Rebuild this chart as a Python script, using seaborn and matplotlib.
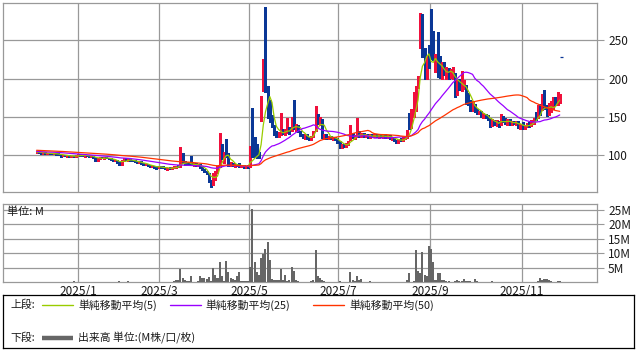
import numpy as np
import pandas as pd
import matplotlib
matplotlib.use("Agg")
import matplotlib.pyplot as plt
import seaborn as sns

sns.set_style("white")
plt.rcParams['font.family'] = ['Noto Sans CJK JP', 'DejaVu Sans']

# ---------------- data (daily candles, Dec 2024 - Nov 2025) ----------------
opens = [
    103,103.5,103,102,103,102,102.5,102,101.5,102,101,100.5,99,100,99,99.5,97.5,98.5,98,
    99.5,100.5,99.5,99,99.5,99,98,98.5,97,93,95.5,96.5,96,96.5,96,95,93.5,92.5,93.5,
    90,88,92.5,95,93.5,94,92.5,92,91,90,91,89,87.5,88,86,85,85.5,84,
    83,85.5,84,83,82,83,82,83.5,84.5,85.5,85,100.5,91,89,88,88.5,87,88,86.5,87.5,
    84,81,78.5,76,66,61,70,77,85,112,90,118,102,87.5,89,86,87,86.5,85,86.5,84,85.5,
    85,106,104,99,98,146,186,230,185,165,150,137,128,127,129,133,128,132,134,133,147,
    136,138,131,126,123,126,122,120.5,124,133,152,142,146,124,126,122,124,122,123,121,117,
    111,113,111.5,115,121,128,123,124,130,124,128,124,126,123,126,124,126,124,125,124,126,123,
    125,122,123,119,117,120,119,122,124,142,136,152,162,190,246,262,232,205,228,
    240,248,210,228,226,203,220,206,212,203,201,205,180,194,186,190,190,180,168,160,
    166,158,155,156,151,153,150,148,139,145,141,144,140,150,146,140,145,140,144,141,143,136,
    140,136,137,141,139,142,154,149,164,160,177,164,153,158,163,172,168,170,
]
highs = [
    104.5,104,103.5,103.5,103.5,103,103,102.5,102.5,102.5,103,101.5,100.5,100.5,100,100,99,99,100,
    101,101,100.5,100,100.5,99.5,99.5,99,97.5,96,97,97.5,97,97,96.5,95.5,94.5,94,94,
    91.5,93,96,95.5,94.5,94.5,93.5,93,92,91.5,91.5,89.5,88.5,88.5,87,86,86,85.5,
    86,86,85,84,83.5,84,84,85,86,86.5,111,102,92,90.5,89,98.7,89,89,88,88,
    85,82,79,77,67,76,79,86,129,114,104,121,103,91,90,88,88,90,87,87,86,86.5,
    112,161.5,124,115,104,177,226,293,190,172,152,139,131,130,155,134,134,148,136,150,172,
    140,139,132,128,127,127,124,125,131,164.5,154,150,147,127,127,125,125,124,124,122,118,
    114,115,116,118,139,129,126,148,131,129,129,127,127,127,127,127,127,126,127,127,127,126,
    126,124,124,120,121,122,123,124,133,155,160,182,190,203,286,285,240,230,244,
    291,262,232,261,230,222,222,215,214,212,215,207,198,200,210,198,192,181,172,170,
    167,160,158,157,155,154,152,149,147,146,146,145,153,151,148,147,147,145,145,144,144,141,
    143,139,142,143,146,149,156,166,167,180,185,166,168,170,176,176,183,180,
]
lows = [
    102.5,102.5,101.5,101.5,101.5,101.5,101.5,101,101,100.5,100,98,98.5,98.5,98,97,97,97.5,97.5,
    99,99,98.5,98,98.5,97.5,97,96.5,92,92.5,95,95.5,95,95.5,94.5,93,92,91.5,89.5,
    87,87.5,92,93,92.5,92,91.5,90.5,89.5,89.5,88.5,87,86.5,85.5,84.5,84,83.5,82,
    82.5,83.5,82.5,81.5,81,81.5,81.5,82.5,83.5,84.5,84.5,90,87.5,87,86.5,86.5,85.5,86,85,83,
    80,77.5,74.5,65,58.5,60.5,67,76,84,95,89,97,86,86,85,84.5,85,84,84,83,83.5,83.5,
    84.5,97,97,96,95.5,145,184,183,148,143,136,126,124,124,126,127,126,129,128,132,134,
    132,130,125,122,121,121,119.5,120,123,132,140,139,122,121,121,120.5,121,120,120,116,109,
    108.5,110,111,113,120,122,121,123,123,123,123,123,122,122,123,123,123,122,123,122,122,122,
    121,120,118,115.5,116,118,118,121,122,134,135,150,158,188,240,228,200,200,214,
    225,224,208,202,201,200,204,200,200,201,199,176,178,185,184,186,167,166,158,158,
    156,153,153,150,149,149,146,136,138,139,138,137,139,143,140,139,139,139,140,139,135,134,
    134,134.5,136,137,138,140,146,148,152,159,160,151,152,156,160,165,166,168,
]
closes = [
    103.5,103,102,103,102,102.5,102,101.5,102,101,100.5,99,100,99,99.5,97.5,98.5,98,99.5,
    100.5,99.5,99,99.5,99,98,98.5,97,93,95.5,96.5,96,96.5,96,95,93.5,92.5,93.5,90,
    88,92.5,95,93.5,94,92.5,92,91,90,91,89,87.5,88,86,85,85.5,84,83,
    85.5,84,83,82,83,82,83.5,84.5,85.5,85,96,91,89,88,87.5,87,88,86.5,87.5,84,
    81,78.5,76,66,60,74,77,84.5,115,96,102.5,98,87.5,89,86,87,86.5,85,86.5,84,85.5,84.5,
    110,98,99,97.5,97,176,225,186,150,145,138,128,127,129,133,128,132,134,130,148,136,
    138,131,126,123,126,122,120.5,124,130,155,142,148,124,126,122,124,122,123,121,117,111,
    113,111.5,115,117,128,123,125,130,124,128,124,126,123,126,124,126,124,125,124,126,123,125,
    122,123,119,117,120,119,122,123,132,135,158,180,187,200,281,232,204,228,216,
    232,226,230,205,203,218,206,212,202,210,209,180,194,188,199,196,170,168,160,168,
    158,155,156,151,153,150,148,139,145,141,144,138,150,145,141,145,140,144,141,143,136,140,
    136,137,141,139,144,147,148,164,155,177,162,153,158,166,170,168,177,178,
]
volumes_m = [
    0.12,0.1,0.08,0.1,0.12,0.1,0.08,0.1,0.1,0.12,0.1,0.15,0.1,0.08,0.1,0.12,0.1,0.5,0.1,
    0.12,0.1,0.08,0.1,0.1,0.12,0.1,0.15,0.2,0.1,0.1,0.08,0.1,0.1,0.12,0.1,0.1,0.15,0.12,
    0.35,0.15,0.2,0.1,0.5,0.1,0.1,0.12,0.1,0.08,0.1,0.1,0.12,0.1,0.1,0.08,0.1,0.12,
    0.1,0.1,0.15,0.1,0.12,0.1,0.15,0.3,0.7,0.7,4.6,1.3,0.7,0.5,0.3,2.0,0.2,0.15,0.3,2.0,
    1.5,1.6,1.2,1.85,0.5,4.9,2.4,1.5,7.0,2.3,0.4,7.3,3.6,1.6,1.0,0.7,2.0,3.5,0.5,0.5,0.3,0.4,
    5.2,25.3,6.9,3.5,2.5,8.2,9.7,11.3,13.8,7.6,1.2,0.9,0.9,0.6,4.5,0.7,2.4,0.3,0.9,5.1,3.9,
    0.9,0.5,0.2,0.2,0.15,0.2,0.2,0.5,0.7,11.1,2.1,1.4,0.7,0.3,0.1,0.1,0.08,0.1,0.1,0.1,0.35,
    0.1,0.1,0.12,0.15,3.5,0.7,0.3,2.1,0.9,1.0,0.2,0.1,0.1,0.35,0.1,0.08,0.1,0.1,0.12,0.1,0.08,0.1,
    0.1,0.1,0.12,0.15,0.1,0.1,0.12,0.15,0.7,3.1,0.2,0.5,11.1,3.8,3.1,10.4,2.5,2.0,12.5,
    11.5,7.0,0.7,3.2,3.2,0.7,0.6,0.3,0.3,0.2,0.2,0.3,0.7,0.3,0.3,1.0,0.3,0.3,0.3,0.2,
    1.0,0.3,0.2,0.15,0.15,0.1,0.1,0.2,0.35,0.1,0.1,0.1,0.15,0.1,0.1,0.08,0.1,0.1,0.08,0.1,0.1,0.1,
    0.1,0.08,0.1,0.1,0.12,0.1,0.15,0.3,1.4,0.8,1.0,1.0,0.8,0.4,0.1,0.1,0.5,0.5,
]
# closes before the first drawn candle, only used to seed the moving averages
warmup_closes = [
    109,108.5,108,108.5,108,107.5,108,108.5,108,107.5,108,108,107.5,108,108.5,108,107.5,107,
    107.5,108,107.5,107,106.5,106,106.5,
    106,105.5,105,105.5,105,104.5,105,105.5,105,104.5,104.5,105,104.5,104,104.5,105,104.5,
    104,104.5,104,103.5,104,104.5,104,
]
last_marker_value = 228

month_labels = ["2025/1", "2025/3", "2025/5", "2025/7", "2025/9", "2025/11"]
month_pos = [19, 56.3, 97.6, 138.4, 180.5, 222.5]
price_ticks = [100, 150, 200, 250]
vol_ticks = [5, 10, 15, 20, 25]
ma_windows = [5, 25, 50]
ma_names = ["単純移動平均(5)", "単純移動平均(25)", "単純移動平均(50)"]

# ---------------- derived ----------------
n = len(closes)
idx = np.arange(n)
o = np.array(opens, float); h = np.array(highs, float)
l = np.array(lows, float); c = np.array(closes, float)
series = pd.Series(warmup_closes + closes, dtype=float)
ma = {w: series.rolling(w, min_periods=1).mean().values[len(warmup_closes):] for w in ma_windows}

UP = '#f0103c'
DN = '#0a3796'
MA_COL = {5: '#99cc00', 25: '#9900ff', 50: '#ff3300'}
GRID = '#999999'
VOL = '#666666'
TXT = '#1a1a1a'

W, H = 636, 350
fig = plt.figure(figsize=(W / 100, H / 100), dpi=100)


def rect(x0, y0, x1, y1):
    return [x0 / W, 1 - y1 / H, (x1 - x0) / W, (y1 - y0) / H]


ax = fig.add_axes(rect(3, 3, 597, 192))
axv = fig.add_axes(rect(3, 204, 597, 282.2))
axl = fig.add_axes(rect(3, 295, 634, 348))

XL = (-15.4, 257.1)

# ---------------- price panel ----------------
up = c >= o
cols = np.where(up, UP, DN)
ax.vlines(idx, l, h, colors=cols, linewidth=0.8, zorder=3, antialiased=False)
body_lo = np.minimum(o, c)
body_h = np.maximum(np.abs(c - o), 1.0)
ax.bar(idx, body_h, bottom=body_lo, width=0.88, color=cols, linewidth=0,
       zorder=3, antialiased=False)
for w in ma_windows:
    sns.lineplot(x=idx, y=ma[w], ax=ax, color=MA_COL[w], linewidth=0.9,
                 legend=False, zorder=4)
ax.hlines(last_marker_value, idx[-1] + 0.3, idx[-1] + 1.5, colors=DN, linewidth=0.9, zorder=4)

ax.set_xlim(*XL)
ax.set_ylim(51.6, 298.8)
ax.set_yticks(price_ticks)
ax.set_xticks(month_pos)
ax.yaxis.tick_right()
ax.tick_params(axis='y', length=5, width=0.8, color=GRID, labelsize=8.5,
               pad=3, labelcolor=TXT, left=False, right=True)
ax.tick_params(axis='x', length=0, labelbottom=False)
ax.grid(True, color=GRID, linewidth=0.9)
ax.set_axisbelow(True)
ax.set_xlabel(""); ax.set_ylabel("")
for s in ax.spines.values():
    s.set_color(GRID); s.set_linewidth(0.9)

# ---------------- volume panel ----------------
sns.barplot(x=idx, y=volumes_m, native_scale=True, color=VOL, saturation=1,
            width=0.95, linewidth=0, errorbar=None, ax=axv, zorder=3,
            antialiased=False)
axv.set_xlim(*XL)
axv.set_ylim(0, 27)
axv.set_yticks(vol_ticks)
axv.set_yticklabels([f"{v}M" for v in vol_ticks])
axv.set_xticks(month_pos)
axv.set_xticklabels(month_labels)
axv.yaxis.tick_right()
axv.tick_params(axis='y', length=5, width=0.8, color=GRID, labelsize=8.5,
                pad=3, labelcolor=TXT, left=False, right=True)
axv.tick_params(axis='x', length=0, labelsize=8.5, pad=2, labelcolor=TXT)
axv.grid(True, color=GRID, linewidth=0.9)
axv.set_axisbelow(True)
axv.set_xlabel(""); axv.set_ylabel("")
for s in axv.spines.values():
    s.set_color(GRID); s.set_linewidth(0.9)
fig.text(7 / W, 1 - 211.5 / H, "単位: M", ha='left', va='center', fontsize=8, color=TXT)

# ---------------- legend box ----------------
axl.set_xlim(3, 634)
axl.set_ylim(348, 295)
axl.set_xticks([]); axl.set_yticks([])
for s in axl.spines.values():
    s.set_color('#000000'); s.set_linewidth(0.9)
fs = 7.8
r1, r2 = 305, 338
axl.text(10, r1, "上段:", va='center', ha='left', fontsize=fs, color=TXT)
seg_x = [(42, 73, 78), (170, 201, 205), (313, 344, 349)]
for (x0, x1, xt), w, name in zip(seg_x, ma_windows, ma_names):
    axl.plot([x0, x1], [r1, r1], color=MA_COL[w], linewidth=1.0)
    axl.text(xt, r1, name, va='center', ha='left', fontsize=fs, color=TXT)
axl.text(10, r2, "下段:", va='center', ha='left', fontsize=fs, color=TXT)
axl.plot([42, 73], [r2, r2], color=VOL, linewidth=3.2, solid_capstyle='butt')
axl.text(78, r2, "出来高 単位:(M株/口/枚)", va='center', ha='left', fontsize=fs, color=TXT)

fig.savefig("out.png", dpi=100)
